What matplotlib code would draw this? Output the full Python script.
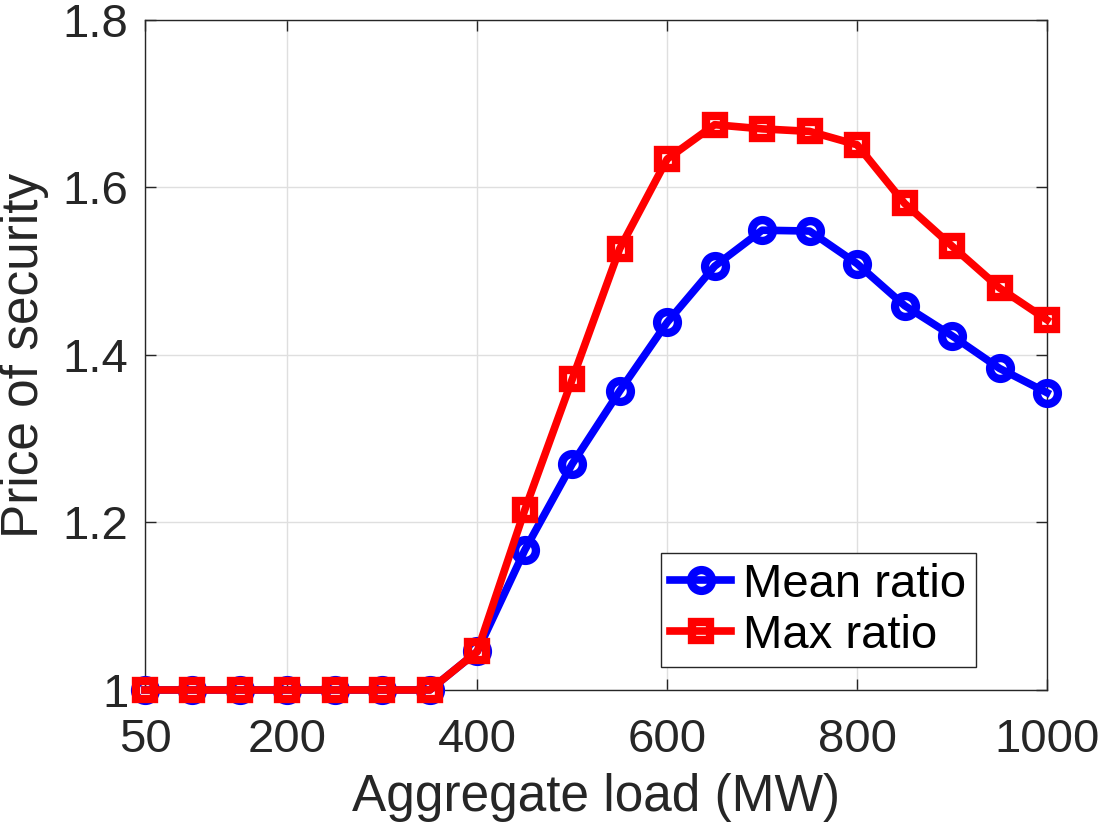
import matplotlib
matplotlib.use("Agg")
import matplotlib.pyplot as plt

plt.rcParams['font.family'] = ['Liberation Sans', 'DejaVu Sans']

load_mw = [50, 100, 150, 200, 250, 300, 350, 400, 450, 500,
           550, 600, 650, 700, 750, 800, 850, 900, 950, 1000]
mean_ratio = [1.0, 1.0, 1.0, 1.0, 1.0, 1.0, 1.0, 1.046, 1.167, 1.270,
              1.357, 1.439, 1.506, 1.549, 1.548, 1.509, 1.459, 1.423, 1.384, 1.355]
max_ratio = [1.0, 1.0, 1.0, 1.0, 1.0, 1.0, 1.0, 1.046, 1.215, 1.371,
             1.527, 1.634, 1.675, 1.670, 1.667, 1.651, 1.581, 1.530, 1.480, 1.442]

x_ticks = [50, 200, 400, 600, 800, 1000]
y_ticks = [1.0, 1.2, 1.4, 1.6, 1.8]
y_labels = ["1", "1.2", "1.4", "1.6", "1.8"]

fig = plt.figure(figsize=(11.05, 8.3), dpi=100)
ax = fig.add_axes([0.1312, 0.1687, 0.8163, 0.8072])

ax.plot(load_mw, mean_ratio, color='blue', lw=5.5, marker='o', ms=15,
        mfc='none', mew=6, label="Mean ratio", clip_on=False, zorder=3)
ax.plot(load_mw, max_ratio, color='red', lw=5.5, marker='s', ms=12.5,
        mfc='none', mew=6, label="Max ratio", clip_on=False, zorder=4)

ax.set_xlim(50, 1000)
ax.set_ylim(1.0, 1.8)
ax.set_xticks(x_ticks)
ax.set_yticks(y_ticks)
ax.set_yticklabels(y_labels)
ax.tick_params(direction='in', length=8, width=1, labelsize=34,
               top=True, right=True, colors='#262626')
ax.tick_params(axis='x', pad=20)
ax.tick_params(axis='y', pad=12)
ax.grid(True, color='#dfdfdf', lw=1)
ax.set_axisbelow(True)
for s in ax.spines.values():
    s.set_color('#262626')
    s.set_linewidth(1)

ax.set_xlabel("Aggregate load (MW)", fontsize=37, color='#262626', labelpad=8)
ax.set_ylabel("Price of security", fontsize=37, color='#262626', labelpad=10)

leg = ax.legend(loc='lower right', bbox_to_anchor=(0.921, 0.034), borderaxespad=0,
                fontsize=34, fancybox=False, framealpha=1, edgecolor='#262626',
                handlelength=1.3, handletextpad=0.25, borderpad=0.2, labelspacing=0.15)
leg.get_frame().set_linewidth(1)

fig.savefig("out.png", dpi=100)
